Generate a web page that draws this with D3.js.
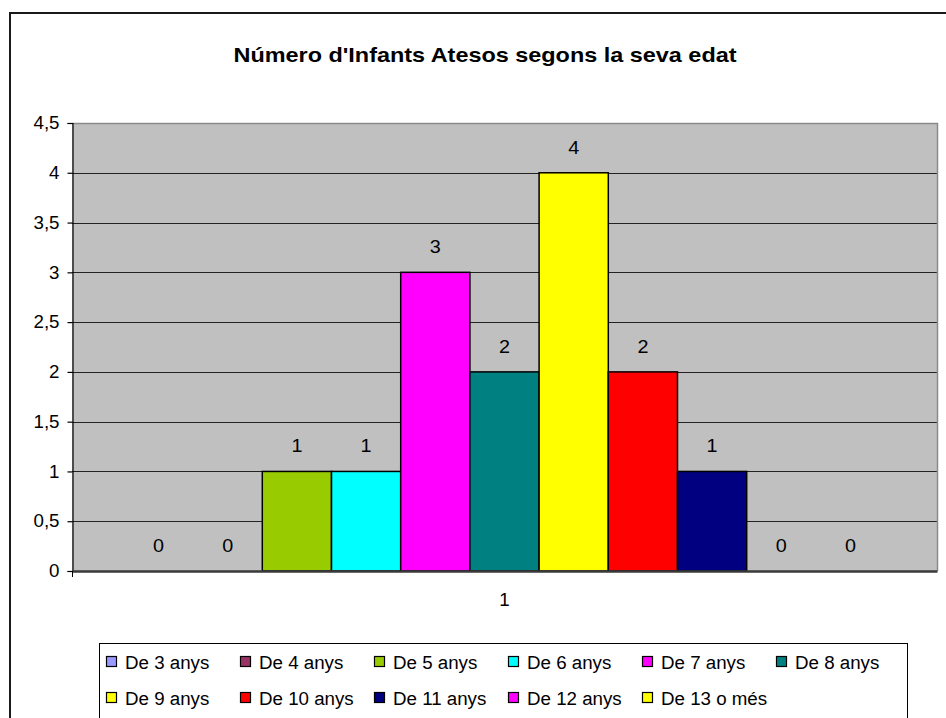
<!DOCTYPE html>
<html>
<head>
<meta charset="utf-8">
<script src="https://cdn.jsdelivr.net/npm/d3@7"></script>
<style>
  body { margin: 0; background: #fff; }
  text { font-family: "Liberation Sans", Arial, sans-serif; fill: #000; }
</style>
</head>
<body>
<div id="chart"></div>
<script>
// Number of children by age - one category, eleven series (Excel style)
var categories = ["1"];
var seriesNames = ["De 3 anys", "De 4 anys", "De 5 anys", "De 6 anys", "De 7 anys", "De 8 anys",
                   "De 9 anys", "De 10 anys", "De 11 anys", "De 12 anys", "De 13 o més"];
var seriesValues = [0, 0, 1, 1, 3, 2, 4, 2, 1, 0, 0];
var seriesColors = ["#9999ff", "#993366", "#99cc00", "#00ffff", "#ff00ff", "#008080",
                    "#ffff00", "#ff0000", "#000080", "#ff00ff", "#ffff00"];
var yTicks = [0, 0.5, 1, 1.5, 2, 2.5, 3, 3.5, 4, 4.5];

var width = 946, height = 718;
var plot = {left: 72, right: 937, top: 123, bottom: 571};
var stretch = 1.04; // the original text is a bit wider than it is tall

var locale = d3.formatLocale({decimal: ",", thousands: ".", grouping: [3], currency: ["", "€"]});
var fmt = locale.format("~g");

var svg = d3.select("#chart").append("svg")
    .attr("width", width)
    .attr("height", height);

// outer chart frame
svg.append("rect")
    .attr("x", 10).attr("y", 13)
    .attr("width", 960).attr("height", 760)
    .attr("fill", "#fff")
    .attr("stroke", "#1a1a1a")
    .attr("stroke-width", 2);

function widen(sel) {
  sel.each(function() {
    var len = this.getComputedTextLength();
    d3.select(this).attr("textLength", len * stretch).attr("lengthAdjust", "spacingAndGlyphs");
  });
}

// title
svg.append("text")
    .attr("x", 485).attr("y", 62)
    .attr("text-anchor", "middle")
    .style("font-size", "21px")
    .style("font-weight", "bold")
    .text("Número d'Infants Atesos segons la seva edat")
    .attr("textLength", 503)
    .attr("lengthAdjust", "spacingAndGlyphs");

// scales
var x0 = d3.scaleBand()
    .domain(categories)
    .range([plot.left, plot.right])
    .paddingInner(0)
    .paddingOuter(1.5 / 22);

var x1 = d3.scaleBand()
    .domain(seriesNames)
    .range([0, x0.bandwidth()]);

var y = d3.scaleLinear()
    .domain([0, 4.5])
    .range([plot.bottom, plot.top]);

// plot area
svg.append("rect")
    .attr("x", plot.left).attr("y", plot.top)
    .attr("width", plot.right - plot.left)
    .attr("height", plot.bottom - plot.top)
    .attr("fill", "#c0c0c0");

svg.append("g")
  .selectAll("line")
  .data(yTicks.filter(function(d){ return d > 0 && d < 4.5; }))
  .join("line")
    .attr("x1", plot.left).attr("x2", plot.right)
    .attr("y1", function(d){ return Math.round(y(d)) + 0.5; })
    .attr("y2", function(d){ return Math.round(y(d)) + 0.5; })
    .attr("stroke", "#222")
    .attr("stroke-width", 1);

// plot border (top / right)
svg.append("path")
    .attr("d", "M" + plot.left + "," + (plot.top + 0.5) + "H" + (plot.right + 0.5) + "V" + plot.bottom)
    .attr("fill", "none")
    .attr("stroke", "#8a8a8a")
    .attr("stroke-width", 1.5);

// bars
var data = seriesNames.map(function(s, i){ return {cat: categories[0], name: s, value: seriesValues[i], color: seriesColors[i]}; });

var bars = svg.append("g");
bars.selectAll("rect")
  .data(data.filter(function(d){ return d.value > 0; }))
  .join("rect")
    .attr("x", function(d){ return x0(d.cat) + x1(d.name); })
    .attr("y", function(d){ return y(d.value); })
    .attr("width", x1.bandwidth())
    .attr("height", function(d){ return y(0) - y(d.value); })
    .attr("fill", function(d){ return d.color; })
    .attr("stroke", "#000")
    .attr("stroke-width", 1.5);

// data labels
svg.append("g")
  .selectAll("text")
  .data(data)
  .join("text")
    .attr("x", function(d){ return x0(d.cat) + x1(d.name) + x1.bandwidth() / 2; })
    .attr("y", function(d){ return y(d.value) - 19; })
    .attr("text-anchor", "middle")
    .style("font-size", "19px")
    .text(function(d){ return fmt(d.value); })
    .call(widen);

// y axis
var yAxis = d3.axisLeft(y)
    .tickValues(yTicks)
    .tickSize(5)
    .tickPadding(8)
    .tickFormat(fmt);

var gy = svg.append("g")
    .attr("transform", "translate(" + (plot.left + 0.5) + ",0)")
    .call(yAxis);
gy.select(".domain").attr("stroke", "#000").attr("stroke-width", 1.2);
gy.selectAll(".tick line").attr("stroke", "#000").attr("stroke-width", 1.2);
gy.selectAll(".tick text")
    .style("font-family", "'Liberation Sans', Arial, sans-serif")
    .style("font-size", "18px")
    .attr("fill", "#000")
    .call(widen);

// x axis
var xAxis = d3.axisBottom(x0).tickSize(0).tickPadding(22);
var gx = svg.append("g")
    .attr("transform", "translate(0," + plot.bottom + ")")
    .call(xAxis);
gx.select(".domain").attr("stroke", "#3a3a3a").attr("stroke-width", 2.5);
gx.selectAll(".tick text")
    .style("font-family", "'Liberation Sans', Arial, sans-serif")
    .style("font-size", "18px")
    .attr("fill", "#000")
    .call(widen);
// small tick at the left end of the x axis
svg.append("line")
    .attr("x1", plot.left + 0.5).attr("x2", plot.left + 0.5)
    .attr("y1", plot.bottom).attr("y2", plot.bottom + 6)
    .attr("stroke", "#000");

// legend
var legend = svg.append("g");
legend.append("rect")
    .attr("x", 99.5).attr("y", 643.5)
    .attr("width", 808).attr("height", 120)
    .attr("fill", "#fff")
    .attr("stroke", "#000")
    .attr("stroke-width", 1);

var item = legend.selectAll("g.item")
  .data(data)
  .join("g")
    .attr("class", "item")
    .attr("transform", function(d, i){
      return "translate(" + (106 + (i % 6) * 134) + "," + (662 + Math.floor(i / 6) * 36) + ")";
    });

item.append("rect")
    .attr("x", 0.5).attr("y", -5.5)
    .attr("width", 10).attr("height", 10)
    .attr("fill", function(d){ return d.color; })
    .attr("stroke", "#000")
    .attr("stroke-width", 1.2);

item.append("text")
    .attr("x", 19).attr("y", 6.5)
    .style("font-size", "18px")
    .text(function(d){ return d.name; })
    .call(widen);
</script>
</body>
</html>
